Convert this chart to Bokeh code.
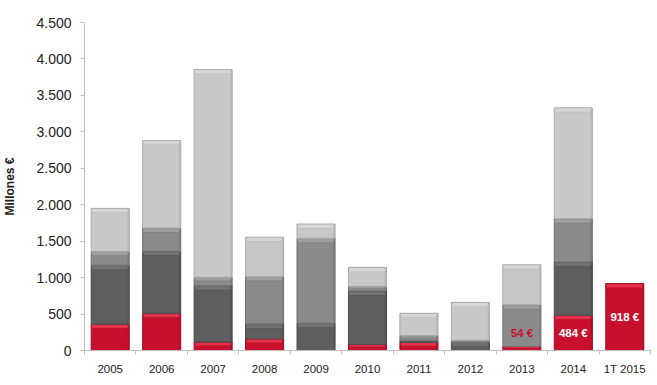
import numpy as np
from bokeh.plotting import figure
from bokeh.models import ColumnDataSource, Range1d, FixedTicker
from bokeh.core.properties import value
from bokeh.embed import file_html
from bokeh.resources import INLINE

categories = ["2005", "2006", "2007", "2008", "2009", "2010", "2011", "2012", "2013", "2014", "1T 2015"]
red = [360, 510, 115, 160, 0, 85, 110, 0, 54, 484, 918]
dark = [810, 850, 775, 205, 375, 730, 25, 110, 0, 730, 0]
medium = [190, 320, 115, 650, 1165, 65, 70, 30, 573, 595, 0]
light = [590, 1200, 2850, 540, 195, 260, 305, 520, 548, 1520, 0]
label_idx = [8, 9, 10]
label_text = ["54 €", "484 €", "918 €"]
y_ticks = [0, 500, 1000, 1500, 2000, 2500, 3000, 3500, 4000, 4500]

FONT = "Liberation Sans"
x = np.arange(len(categories))

p = figure(width=657, height=385, output_backend="svg", toolbar_location=None,
           x_range=Range1d(-0.5, len(categories) - 0.5), y_range=Range1d(0, 4500),
           min_border_left=84, min_border_right=7, min_border_top=22, min_border_bottom=35)
p.outline_line_color = None
p.xgrid.visible = False
p.ygrid.visible = False
p.background_fill_color = "white"
p.border_fill_color = "white"

series = [
    (red, "#c8102e", "#e33247", "#a00c24"),
    (dark, "#5e5e5e", "#727272", "#4c4c4c"),
    (medium, "#8a8a8a", "#9e9e9e", "#707070"),
    (light, "#c8c8c8", "#d6d6d6", "#aaaaaa"),
]
px_unit = 4500 / 328.0
bottom = np.zeros(len(categories))
W = 0.74
for vals, col, hi, edge in series:
    v = np.array(vals, dtype=float)
    top = bottom + v
    m = v > 0
    src = ColumnDataSource(dict(x=x[m], b=bottom[m], t=top[m]))
    p.vbar(x="x", bottom="b", top="t", width=W, source=src,
           fill_color=col, line_color=edge, line_width=1)
    hh = np.minimum(4 * px_unit, v[m] * 0.4)
    hsrc = ColumnDataSource(dict(x=x[m], b=top[m] - hh, t=top[m] - 0.6 * px_unit))
    p.vbar(x="x", bottom="b", top="t", width=W - 0.04, source=hsrc,
           fill_color=hi, line_color=None)
    lsrc = ColumnDataSource(dict(x=x[m], b=top[m] - hh - 1.0 * px_unit, t=top[m] - hh))
    p.vbar(x="x", bottom="b", top="t", width=W - 0.04, source=lsrc,
           fill_color=edge, fill_alpha=0.25, line_color=None)
    ssrc = ColumnDataSource(dict(x=x[m] + W / 2 - 0.02, b=bottom[m], t=top[m]))
    p.vbar(x="x", bottom="b", top="t", width=0.03, source=ssrc,
           fill_color=edge, fill_alpha=0.5, line_color=None)
    bottom = top

red_arr = np.array(red, dtype=float)
lx = x[label_idx]
ly = np.maximum(red_arr[label_idx] / 2, 235)
lcol = ["#c8102e" if red_arr[i] < 150 else "white" for i in label_idx]
p.text(x=lx, y=ly, text=label_text, text_color=lcol, text_font=value(FONT),
       text_font_style="bold", text_font_size="11.5px", text_align="center",
       text_baseline="middle")

ya = p.yaxis[0]
ya.ticker = FixedTicker(ticks=y_ticks)
ya.major_label_overrides = {t: f"{t:,}".replace(",", ".") for t in y_ticks}
ya.axis_line_color = "#c0c0c0"
ya.major_tick_line_color = "#c0c0c0"
ya.major_tick_in = 0
ya.major_tick_out = 4
ya.minor_tick_line_color = None
ya.major_label_standoff = 9
ya.major_label_text_font = FONT
ya.major_label_text_font_size = "14px"
ya.major_label_text_color = "#222222"
ya.axis_label = "Millones €"
ya.axis_label_text_font = FONT
ya.axis_label_text_font_style = "bold"
ya.axis_label_text_font_size = "12px"
ya.axis_label_text_color = "#222222"
ya.axis_label_standoff = 16

xa = p.xaxis[0]
xa.ticker = FixedTicker(ticks=list(x), minor_ticks=list(np.arange(len(categories) + 1) - 0.5))
xa.major_label_overrides = {int(i): c for i, c in zip(x, categories)}
xa.axis_line_color = "#c0c0c0"
xa.major_tick_line_color = None
xa.major_tick_out = 0
xa.major_tick_in = 0
xa.minor_tick_line_color = "#c0c0c0"
xa.minor_tick_out = 4
xa.minor_tick_in = 0
xa.major_label_standoff = 8
xa.major_label_text_font = FONT
xa.major_label_text_font_size = "11.5px"
xa.major_label_text_color = "#222222"

open("out.html", "w").write(file_html(p, INLINE))
